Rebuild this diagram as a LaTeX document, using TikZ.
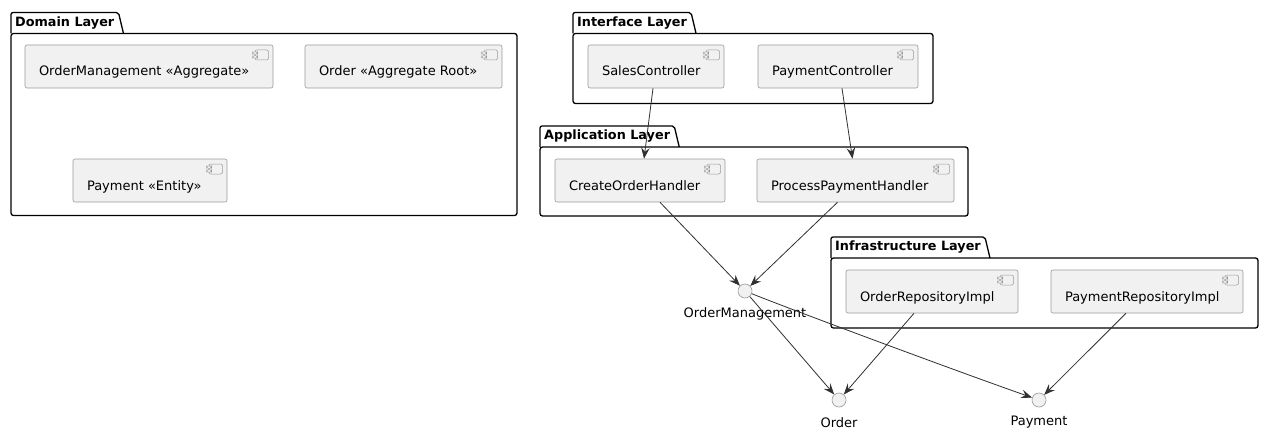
\documentclass[tikz,border=0pt]{standalone}
\usepackage{fontspec}
\setmainfont{DejaVu Sans}
\usetikzlibrary{arrows.meta,calc}
\definecolor{compfill}{HTML}{F1F1F1}
\definecolor{compline}{HTML}{9A9A9A}
\definecolor{arrline}{HTML}{303030}
\tikzset{
  compbox/.style={draw=compline, fill=compfill, line width=0.6pt, rounded corners=2pt,
    minimum height=43pt, inner xsep=14pt, inner ysep=0pt, text height=19pt, text depth=0pt,
    align=flush left, font=\fontsize{13}{15}\selectfont,
    path picture={
      \coordinate (ne) at (path picture bounding box.north east);
      \draw[compline, line width=0.5pt, fill=compfill] ([xshift=-18pt,yshift=-5pt]ne) rectangle ([xshift=-4.5pt,yshift=-15pt]ne);
      \draw[compline, line width=0.5pt, fill=compfill] ([xshift=-20.5pt,yshift=-6.8pt]ne) rectangle ([xshift=-15.5pt,yshift=-9.3pt]ne);
      \draw[compline, line width=0.5pt, fill=compfill] ([xshift=-20.5pt,yshift=-10.7pt]ne) rectangle ([xshift=-15.5pt,yshift=-13.2pt]ne);
    }},
  pkgtitle/.style={inner sep=0pt, font=\bfseries\fontsize{12.8}{15}\selectfont},
  pkgline/.style={draw=black, line width=1.3pt},
  iface/.style={circle, draw=compline, fill=compfill, line width=0.6pt, minimum size=14pt, inner sep=0pt},
  lbl/.style={inner sep=0pt, font=\fontsize{13}{15}\selectfont},
  arr/.style={draw=arrline, line width=0.8pt, -{Stealth[length=11pt,width=8.5pt,inset=4pt]}}
}
\newcommand\mkcomp[5]{%
  \pgfmathsetmacro\cw{#4-#2}%
  \pgfmathsetmacro\tw{#4-#2-28}%
  \pgfmathsetmacro\cx{(#2+#4)/2}%
  \pgfmathsetmacro\cy{#3+21.5}%
  \node[compbox, minimum width=\cw pt, text width=\tw pt] (#1) at (\cx,\cy) {#5};}
\newcommand\mkpkg[6]{%
  \node[pkgtitle, anchor=west] (#1t) at (#2+4,#3-10.5) {#6};
  \coordinate (#1tl) at (#2,#3-21);
  \coordinate (#1tb) at (#2,#3);
  \coordinate (#1tr) at ($(#1t.east)+(4,0)$);
  \draw[pkgline, rounded corners=2pt] (#1tb) -- (#1tl) -- (#1tr |- #1tl) -- ($(#1tr |- #1tb)+(5,0)$);
  \draw[pkgline, rounded corners=2.5pt] (#2,#3) rectangle (#4,#5);}
\begin{document}
\begin{tikzpicture}[x=1pt,y=-1pt]
\path[fill=white] (0,0) rectangle (1280,444);
\useasboundingbox (0,0) rectangle (1280,444);

% packages
\mkpkg{dom}{11}{33.5}{517}{215.5}{Domain Layer}
\mkpkg{intf}{573}{33.5}{933}{103.5}{Interface Layer}
\mkpkg{app}{540}{147}{968}{216}{Application Layer}
\mkpkg{infra}{831}{258}{1258}{328}{Infrastructure Layer}

% components
\mkcomp{omc}{25}{45}{273}{OrderManagement «Aggregate»}
\mkcomp{orc}{305}{45}{502}{Order «Aggregate Root»}
\mkcomp{payc}{73}{159}{227}{Payment «Entity»}
\mkcomp{sales}{588}{45}{724}{SalesController}
\mkcomp{payctl}{758}{45}{918}{PaymentController}
\mkcomp{createh}{555}{159}{725}{CreateOrderHandler}
\mkcomp{processh}{757}{159}{954}{ProcessPaymentHandler}
\mkcomp{orepo}{846}{270}{1018}{OrderRepositoryImpl}
\mkcomp{prepo}{1051}{270}{1243}{PaymentRepositoryImpl}

% interfaces
\node[iface] (omi) at (745,291) {};
\node[lbl] (omil) at (745,313.5) {OrderManagement};
\node[iface] (ori) at (839,400) {};
\node[lbl] (oril) at (839,422.5) {Order};
\node[iface] (payi) at (1039,400) {};
\node[lbl] (payil) at (1039,422.5) {Payment};

% connectors
\draw[arr] ([xshift=-3pt]sales.south) -- ([xshift=4pt]createh.north);
\draw[arr] ([xshift=4pt]payctl.south) -- ([xshift=-3pt]processh.north);
\draw[arr] ([xshift=20pt]createh.south) -- (omi);
\draw[arr] ([xshift=-18pt]processh.south) -- (omi);
\draw[arr] (omi) -- (ori);
\draw[arr] (omi) .. controls +(50,20) and +(-80,-28) .. (payi);
\draw[arr] ([xshift=-18pt]orepo.south) -- (ori);
\draw[arr] ([xshift=-21pt]prepo.south) -- (payi);
\end{tikzpicture}
\end{document}
